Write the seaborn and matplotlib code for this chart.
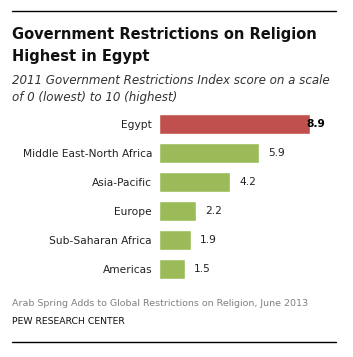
import matplotlib
matplotlib.use("Agg")
import matplotlib.pyplot as plt
import pandas as pd
import seaborn as sns

regions = ["Egypt", "Middle East-North Africa", "Asia-Pacific", "Europe",
           "Sub-Saharan Africa", "Americas"]
scores = [8.9, 5.9, 4.2, 2.2, 1.9, 1.5]
bar_colors = ["#C0504D", "#9BBB59", "#9BBB59", "#9BBB59", "#9BBB59", "#9BBB59"]

W, H = 353, 357

###############################################################################

def px(x, y):
    # pixel coords (top-left origin) -> figure fraction
    return x / W, 1 - y / H

###############################################################################

sns.set_style("white")
plt.rcParams['font.family'] = ['DejaVu Sans']

df = pd.DataFrame({"region": regions, "score": scores})

fig = plt.figure(figsize=(W / 100, H / 100), dpi=100)
fig.patch.set_facecolor("white")

# axes: x 0..10 spans 159..329 px, rows centred 124..269.5 px
top, bottom = 109.5, 284.0
ax = fig.add_axes([159 / W, 1 - bottom / H, 170 / W, (bottom - top) / H])

sns.barplot(data=df, x="score", y="region", hue="region", palette=bar_colors,
            legend=False, width=0.69, saturation=1, ax=ax)

ax.set_xlim(0, 10)
ax.set_ylim(5.5, -0.5)
ax.set_xlabel("")
ax.set_ylabel("")
ax.set_xticks([])
sns.despine(ax=ax, left=True, bottom=True)
ax.tick_params(axis="y", length=0, pad=5, labelsize=7.7, labelcolor="#222222")

for i, v in enumerate(scores):
    if i == 0:
        ax.text(v - 0.25, i, "%.1f" % v, va="center", ha="left",
                fontsize=7.7, fontweight="bold", color="black")
    else:
        ax.text(v + 0.53, i, "%.1f" % v, va="center", ha="left",
                fontsize=7.7, color="#222222")

# rules
fig.add_artist(plt.Line2D([12 / W, 336 / W], [1 - 11 / H, 1 - 11 / H],
                          color="black", lw=1))
fig.add_artist(plt.Line2D([12 / W, 336 / W], [1 - 342 / H, 1 - 342 / H],
                          color="black", lw=1))

# titles
fig.text(*px(12, 35), "Government Restrictions on Religion", fontsize=10.5,
         fontweight="bold", va="center", ha="left", color="#111111")
fig.text(*px(12, 56), "Highest in Egypt", fontsize=10.5,
         fontweight="bold", va="center", ha="left", color="#111111")
fig.text(*px(12, 80), "2011 Government Restrictions Index score on a scale",
         fontsize=8.6, style="italic", va="center", ha="left", color="#333333")
fig.text(*px(12, 97), "of 0 (lowest) to 10 (highest)",
         fontsize=8.6, style="italic", va="center", ha="left", color="#333333")

# footer
fig.text(*px(12, 303), "Arab Spring Adds to Global Restrictions on Religion, June 2013",
         fontsize=6.8, va="center", ha="left", color="#808080")
fig.text(*px(12, 321), "PEW RESEARCH CENTER",
         fontsize=6.7, va="center", ha="left", color="#111111")

plt.savefig("out.png", dpi=100)
